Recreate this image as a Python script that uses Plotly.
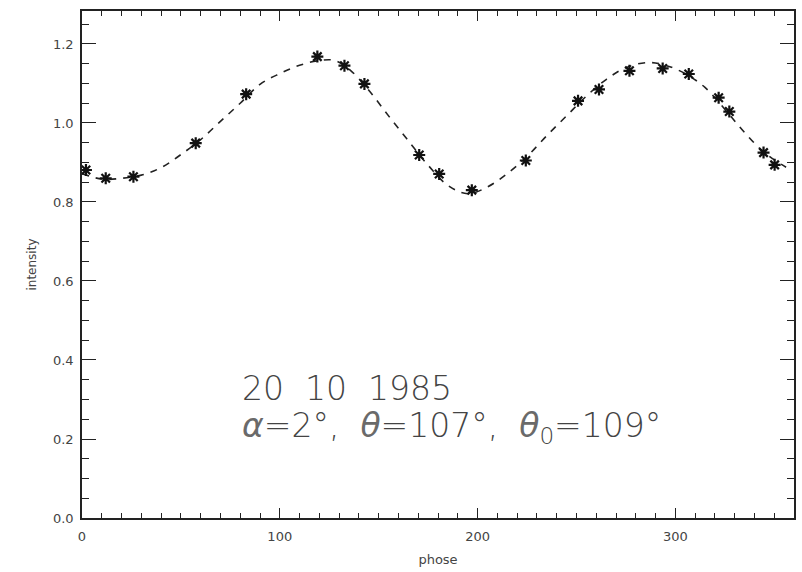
import plotly.graph_objects as go

# Observed points (phase in degrees, intensity)
phase_obs = [2, 12, 26, 57.5, 83, 119, 132.7, 142.8, 170.5, 180.6, 197.1, 224.4,
             250.8, 261.4, 276.8, 293.6, 306.8, 321.9, 327.3, 344.6, 350.2]
intens_obs = [0.881, 0.860, 0.864, 0.949, 1.073, 1.168, 1.145, 1.099, 0.919, 0.871,
              0.830, 0.905, 1.056, 1.085, 1.132, 1.138, 1.124, 1.064, 1.029, 0.925, 0.894]

# Model curve (dashed)
phase_fit = [0, 10, 20, 30, 40, 50, 60, 70, 80, 90, 100, 110, 120, 128, 136, 145, 155,
             165, 175, 185, 195, 205, 215, 225, 235, 245, 255, 265, 275, 286, 295, 305,
             315, 325, 335, 345, 356]
intens_fit = [0.872, 0.858, 0.860, 0.868, 0.887, 0.920, 0.958, 1.004, 1.050, 1.098,
              1.125, 1.146, 1.158, 1.158, 1.132, 1.083, 1.018, 0.955, 0.893, 0.842,
              0.821, 0.838, 0.872, 0.915, 0.968, 1.018, 1.068, 1.110, 1.140, 1.153,
              1.146, 1.125, 1.090, 1.035, 0.976, 0.925, 0.888]

x_ticks = [0, 100, 200, 300]
y_ticks = [0.0, 0.2, 0.4, 0.6, 0.8, 1.0, 1.2]
y_ticktext = ["0.0", "0.2", "0.4", "0.6", "0.8", "1.0", "1.2"]

GREEK = '<span style="color:#6a6a6a"><i>{}</i></span>'
line1 = "20  10  1985"
line2 = (GREEK.format("α") + "=2°,  " + GREEK.format("θ") + "=107°,  "
         + GREEK.format("θ") + "<sub>0</sub>=109°")

AX = "#222222"
TXT = "#444444"

fig = go.Figure()
fig.add_trace(go.Scatter(
    x=phase_fit, y=intens_fit, mode="lines", line_shape="spline",
    line=dict(color="#222222", width=1.6, dash="7px,7px"), hoverinfo="skip"))
fig.add_trace(go.Scatter(
    x=phase_obs, y=intens_obs, mode="markers",
    marker=dict(symbol="asterisk-open", size=10, color="#111111",
                line=dict(color="#111111", width=2.2))))

fig.update_layout(
    width=802, height=572,
    margin=dict(l=82, r=6, t=11, b=54),
    paper_bgcolor="white", plot_bgcolor="white",
    showlegend=False,
    font=dict(family="DejaVu Sans", color=TXT),
)
fig.update_xaxes(
    range=[0, 360], tickvals=x_ticks, ticktext=[str(v) for v in x_ticks],
    ticks="inside", ticklen=10, tickwidth=1.3, tickcolor=AX,
    minor=dict(dtick=10, ticks="inside", ticklen=5, tickwidth=1.3, tickcolor=AX),
    showline=True, linecolor=AX, linewidth=1.5, mirror="ticks",
    showgrid=False, zeroline=False,
    tickfont=dict(size=13, color=TXT), ticklabelstandoff=6,
    title=dict(text="phose", font=dict(size=13, color=TXT), standoff=12),
)
fig.update_yaxes(
    range=[0, 1.2835], tickvals=y_ticks, ticktext=y_ticktext,
    ticks="inside", ticklen=14, tickwidth=1.3, tickcolor=AX,
    minor=dict(dtick=0.05, ticks="inside", ticklen=7, tickwidth=1.3, tickcolor=AX),
    showline=True, linecolor=AX, linewidth=1.5, mirror="ticks",
    showgrid=False, zeroline=False,
    tickfont=dict(size=13, color=TXT), ticklabelstandoff=4,
    title=dict(text="intensity", font=dict(size=12, color=TXT), standoff=14),
)
fig.add_annotation(text=line1, xref="paper", yref="paper", x=0.222, y=0.256,
                   xanchor="left", yanchor="middle", showarrow=False,
                   font=dict(size=33, color=TXT, family="DejaVu Sans", weight=300))
fig.add_annotation(text=line2, xref="paper", yref="paper", x=0.222, y=0.179,
                   xanchor="left", yanchor="middle", showarrow=False,
                   font=dict(size=33, color=TXT, family="DejaVu Sans", weight=300))

fig.write_html("out.html")
